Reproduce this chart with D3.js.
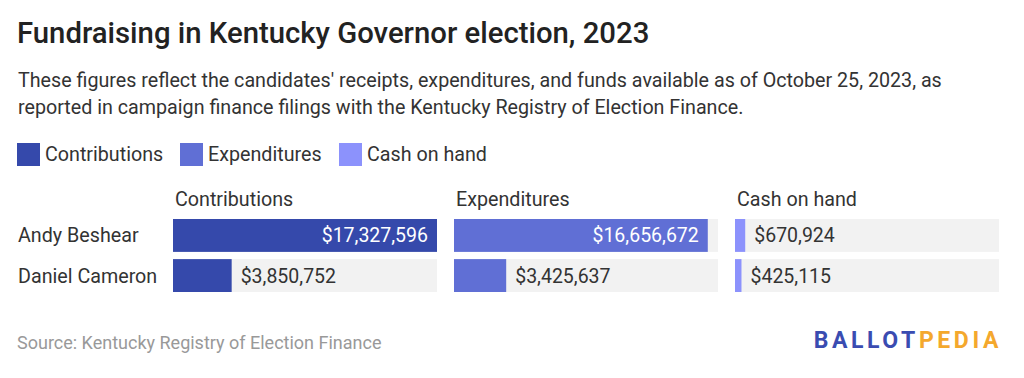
<!DOCTYPE html>
<html><head><meta charset="utf-8">
<script src="https://cdn.jsdelivr.net/npm/d3@7"></script>
<style>
body{margin:0;background:#fff;}
text{font-family:Roboto,"Noto Sans",sans-serif;}
</style></head>
<body><svg id="c" width="1024" height="378"></svg>
<script>
const candidates = ["Andy Beshear", "Daniel Cameron"];
const seriesNames = ["Contributions", "Expenditures", "Cash on hand"];
const contributions = [17327596, 3850752];
const expenditures = [16656672, 3425637];
const cashOnHand = [670924, 425115];
const colors = ["#3549ab", "#606fd5", "#8c92fc"];

const svg = d3.select("#c");
const dark = "#333333";

svg.append("text").attr("x",17).attr("y",43).attr("font-size",29.3).attr("font-weight",500)
  .attr("fill","#222").text("Fundraising in Kentucky Governor election, 2023");
const sub = ["These figures reflect the candidates' receipts, expenditures, and funds available as of October 25, 2023, as",
  "reported in campaign finance filings with the Kentucky Registry of Election Finance."];
sub.forEach((s,i)=>svg.append("text").attr("x",18).attr("y",87+i*27).attr("font-size",19.7).attr("fill",dark).text(s));

// legend
const legX = [17,180,339];
seriesNames.forEach((n,i)=>{
  svg.append("rect").attr("x",legX[i]).attr("y",143).attr("width",23).attr("height",23).attr("fill",colors[i]);
  svg.append("text").attr("x",legX[i]+28).attr("y",161).attr("font-size",19.7).attr("fill",dark).text(n);
});

const series = [contributions, expenditures, cashOnHand];
const panelX = [173,454,735];
const panelW = 264;
const allMax = d3.max(series.flat());
const x = d3.scaleLinear().domain([0, allMax]).range([0, panelW]);
const y = d3.scaleBand().domain(candidates).range([219, 292]).paddingInner(0.18);
const fmt = v => "$" + d3.format(",")(v);

candidates.forEach(c=>{
  svg.append("text").attr("x",18).attr("y",y(c)+y.bandwidth()/2+7).attr("font-size",19.7).attr("fill",dark).text(c);
});

series.forEach((vals,si)=>{
  const g = svg.append("g").attr("transform",`translate(${panelX[si]},0)`);
  g.append("text").attr("x",2).attr("y",206).attr("font-size",19.7).attr("fill",dark).text(seriesNames[si]);
  candidates.forEach((c,ci)=>{
    const v = vals[ci], w = x(v);
    g.append("rect").attr("x",0).attr("y",y(c)).attr("width",panelW).attr("height",y.bandwidth()).attr("fill","#f2f2f2");
    g.append("rect").attr("x",0).attr("y",y(c)).attr("width",w).attr("height",y.bandwidth()).attr("fill",colors[si]);
    const inside = w > panelW*0.6;
    g.append("text").attr("x", inside ? w-9 : w+9).attr("y",y(c)+y.bandwidth()/2+7)
      .attr("text-anchor", inside ? "end" : "start").attr("font-size",19.5)
      .attr("fill", inside ? "#fff" : dark).text(fmt(v));
  });
});

svg.append("text").attr("x",17).attr("y",349).attr("font-size",18).attr("fill","#999").text("Source: Kentucky Registry of Election Finance");
const logo = svg.append("text").attr("x",1002).attr("y",347.5).attr("text-anchor","end").attr("font-size",23)
  .attr("font-weight",700).attr("letter-spacing",3.6);
logo.append("tspan").attr("fill","#3a4cb1").text("BALLOT");
logo.append("tspan").attr("fill","#f4a82d").text("PEDIA");
</script></body></html>
